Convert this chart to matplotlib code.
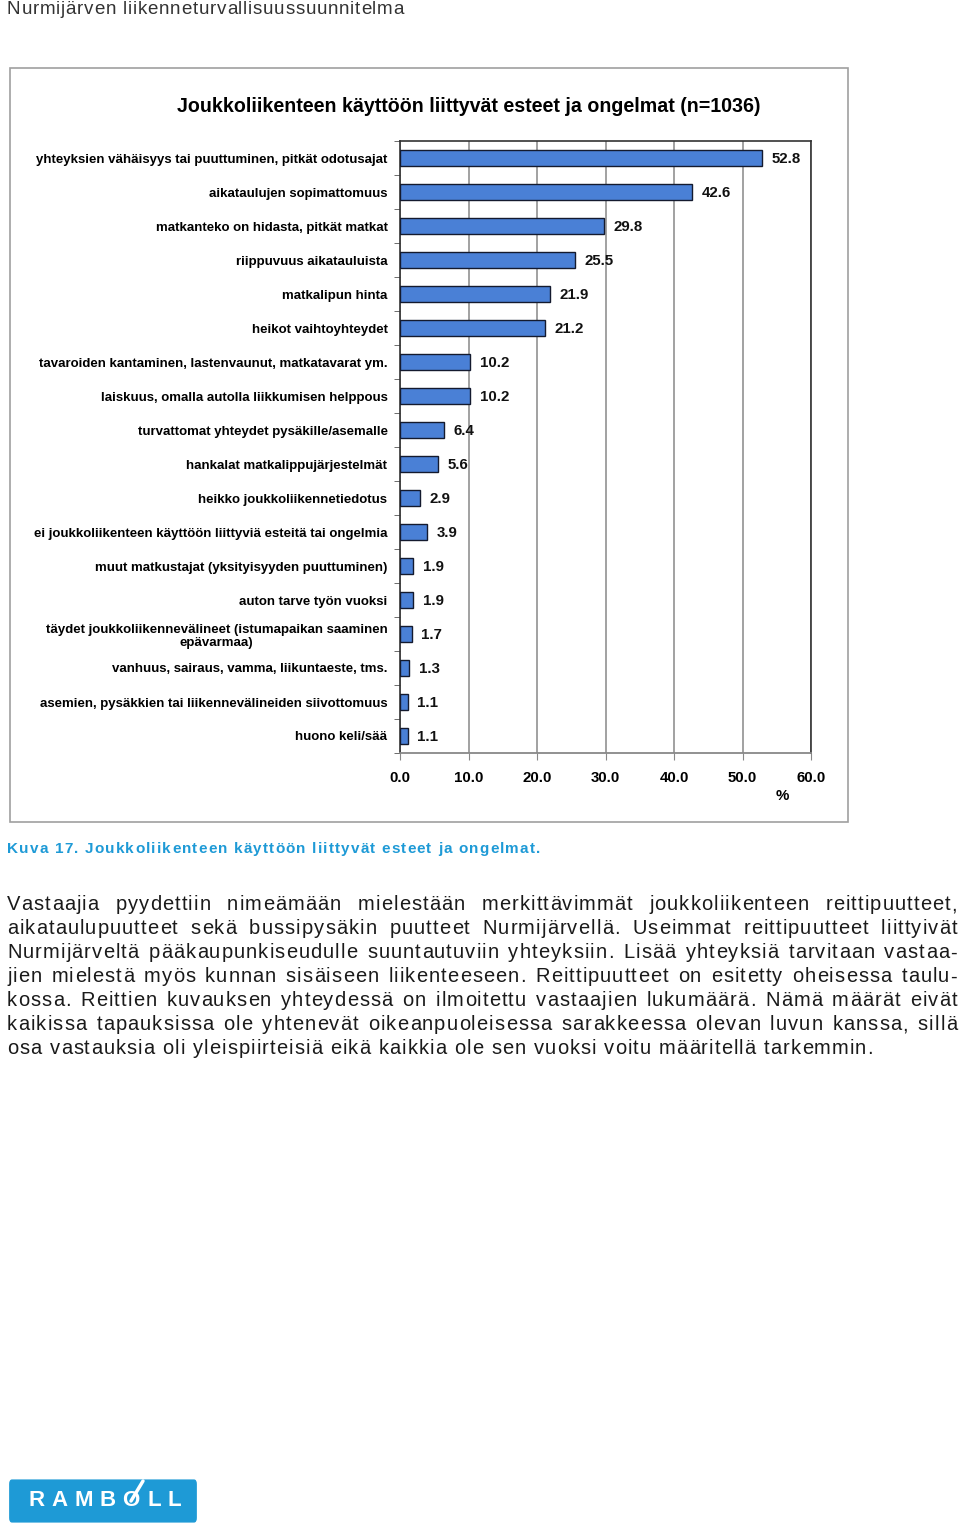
import matplotlib
matplotlib.use('Agg')
import matplotlib.pyplot as plt
from matplotlib.patches import Rectangle, FancyBboxPatch
from matplotlib.lines import Line2D

plt.rcParams['font.family'] = ['Liberation Sans', 'DejaVu Sans']

# data
categories = [
    "yhteyksien vähäisyys tai puuttuminen, pitkät odotusajat",
    "aikataulujen sopimattomuus",
    "matkanteko on hidasta, pitkät matkat",
    "riippuvuus aikatauluista",
    "matkalipun hinta",
    "heikot vaihtoyhteydet",
    "tavaroiden kantaminen, lastenvaunut, matkatavarat ym.",
    "laiskuus, omalla autolla liikkumisen helppous",
    "turvattomat yhteydet pysäkille/asemalle",
    "hankalat matkalippujärjestelmät",
    "heikko joukkoliikennetiedotus",
    "ei joukkoliikenteen käyttöön liittyviä esteitä tai ongelmia",
    "muut matkustajat (yksityisyyden puuttuminen)",
    "auton tarve työn vuoksi",
    "täydet joukkoliikennevälineet (istumapaikan saaminen\nepävarmaa)",
    "vanhuus, sairaus, vamma, liikuntaeste, tms.",
    "asemien, pysäkkien tai liikennevälineiden siivottomuus",
    "huono keli/sää",
]
values = [52.8, 42.6, 29.8, 25.5, 21.9, 21.2, 10.2, 10.2, 6.4, 5.6,
          2.9, 3.9, 1.9, 1.9, 1.7, 1.3, 1.1, 1.1]
x_ticks = [0, 10, 20, 30, 40, 50, 60]

title = "Joukkoliikenteen käyttöön liittyvät esteet ja ongelmat (n=1036)"
header = "Nurmijärven liikenneturvallisuussuunnitelma"
caption = "Kuva 17. Joukkoliikenteen käyttöön liittyvät esteet ja ongelmat."
paragraph = [
    "Vastaajia pyydettiin nimeämään mielestään merkittävimmät joukkoliikenteen reittipuutteet,",
    "aikataulupuutteet sekä bussipysäkin puutteet Nurmijärvellä. Useimmat reittipuutteet liittyivät",
    "Nurmijärveltä pääkaupunkiseudulle suuntautuviin yhteyksiin. Lisää yhteyksiä tarvitaan vastaa-",
    "jien mielestä myös kunnan sisäiseen liikenteeseen. Reittipuutteet on esitetty oheisessa taulu-",
    "kossa. Reittien kuvauksen yhteydessä on ilmoitettu vastaajien lukumäärä. Nämä määrät eivät",
    "kaikissa tapauksissa ole yhtenevät oikeanpuoleisessa sarakkeessa olevan luvun kanssa, sillä",
    "osa vastauksia oli yleispiirteisiä eikä kaikkia ole sen vuoksi voitu määritellä tarkemmin.",
]

W, H = 960, 1528
fig = plt.figure(figsize=(W / 100, H / 100), dpi=100)
renderer = fig.canvas.get_renderer()


def fx(px):
    return px / W


def fy(py):
    return 1 - py / H


_cache = {}


def text_width(s, **kw):
    t = fig.text(0, 0, s, **kw)
    w = t.get_window_extent(renderer).width
    t.remove()
    return w


def char_width(c, **kw):
    key = (c, kw.get('fontsize'), kw.get('fontweight', 'normal'))
    if key not in _cache:
        _cache[key] = text_width("H" + c + "H", **kw) - text_width("HH", **kw)
    return _cache[key]


def word_width(s, track, **kw):
    return sum(char_width(c, **kw) for c in s) + track * (len(s) - 1)


def tracking_for(s, target, **kw):
    return (target - sum(char_width(c, **kw) for c in s)) / (len(s) - 1)


def draw_tracked(x, ypx, s, track, **kw):
    for c in s:
        if c != ' ':
            fig.text(fx(x), fy(ypx), c, ha='left', va='center', **kw)
        x += char_width(c, **kw) + track
    return x


# chart frame
fig.patches.append(Rectangle((fx(10), fy(822)), fx(838), 754 / H, transform=fig.transFigure,
                             fill=False, edgecolor='#a0a0a0', linewidth=1.2))

ax = fig.add_axes([fx(400), fy(753), fx(411), 612 / H])
n = len(values)
ypos = list(range(n))
ax.barh(ypos, values, height=0.48, color='#4A80D6', edgecolor='#141a2e', linewidth=1.0, zorder=3)
for y, v in zip(ypos, values):
    ax.annotate(f"{v:.1f}", (v, y), xytext=(7, -1), textcoords='offset points',
                ha='left', va='center', fontsize=10.8, fontweight='bold', color='#111111')

ax.set_xlim(0, 60)
ax.set_ylim(n - 0.5, -0.5)
ax.set_xticks(x_ticks)
ax.set_xticklabels([f"{t:.1f}" for t in x_ticks], fontsize=10.8, fontweight='bold')
ax.set_yticks(ypos)
ax.set_yticklabels(categories, fontsize=9.5, fontweight='bold', multialignment='center')
ax.set_yticks([i - 0.5 for i in range(n + 1)], minor=True)
ax.tick_params(axis='y', which='major', length=0, pad=9)
ax.tick_params(axis='y', which='minor', length=4, color='#555555', direction='out')
ax.tick_params(axis='x', which='major', length=5, color='#888888', direction='out', pad=8)
ax.grid(axis='x', color='#9a9a9a', linewidth=1.3, zorder=0)
ax.set_axisbelow(True)
for side in ['top', 'right', 'left']:
    ax.spines[side].set_color('#333333')
    ax.spines[side].set_linewidth(1.2)
ax.spines['bottom'].set_color('#888888')
ax.spines['bottom'].set_linewidth(1.3)

fig.text(fx(782), fy(796), "%", ha='center', va='center', fontsize=10.8, fontweight='bold')
fig.text(fx(469), fy(106), title, ha='center', va='center', fontsize=14.1, fontweight='bold')

# page texts, letter-spaced like the source document
head_kw = dict(fontsize=13.5, color='#333333')
draw_tracked(7, 10, header, tracking_for(header, 397, **head_kw), **head_kw)

cap_kw = dict(fontsize=11, fontweight='bold', color='#1e9ad6')
draw_tracked(7, 849, caption, tracking_for(caption, 533, **cap_kw), **cap_kw)

para_kw = dict(fontsize=14.5, color='#1a1a1a')
track = tracking_for(paragraph[-1], 866, **para_kw)
x0, x1 = 7, 957
space = char_width(' ', **para_kw) + 2 * track
for i, line in enumerate(paragraph):
    ypx = 905 + 24 * i
    words = line.split(' ')
    widths = [word_width(w, track, **para_kw) for w in words]
    if i < len(paragraph) - 1:
        gap = (x1 - x0 - sum(widths)) / (len(words) - 1)
    else:
        gap = space
    x = x0
    for w, wd in zip(words, widths):
        draw_tracked(x, ypx, w, track, **para_kw)
        x += wd + gap

# logo
fig.patches.append(FancyBboxPatch((fx(12), fy(1518)), fx(182), 34 / H,
                                  boxstyle="round,pad=0.003", transform=fig.transFigure,
                                  facecolor='#1e9ad6', edgecolor='none'))
logo_x = [37, 60, 84, 108, 131, 154, 174]
for xc, ch in zip(logo_x, "RAMBOLL"):
    fig.text(fx(xc), fy(1501), ch, ha='center', va='center', fontsize=16,
             fontweight='bold', color='white')
fig.lines.append(Line2D([fx(131), fx(143)], [fy(1501), fy(1481)], transform=fig.transFigure,
                        color='white', linewidth=2.5, solid_capstyle='round'))

fig.savefig('out.png', dpi=100)
